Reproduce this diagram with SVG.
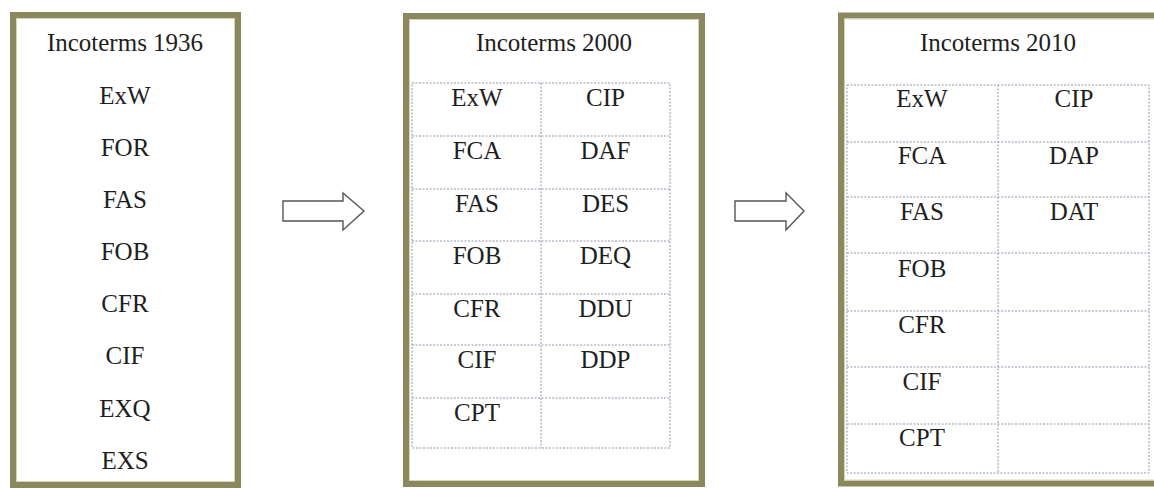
<svg xmlns="http://www.w3.org/2000/svg" width="1154" height="488" viewBox="0 0 1154 488">
  <style>
    .frame { fill: #ffffff; stroke: #8b875f; stroke-width: 6; }
    .frame-in { fill: none; stroke: #d8d4b4; stroke-width: 1; }
    .grid { fill: none; stroke: #8d97ad; stroke-width: 1; stroke-dasharray: 2 1.5; }
    .t { font-family: "Liberation Serif", "Times New Roman", serif; font-size: 25px; fill: #1e1e1e; text-anchor: middle; }
    .arrow { fill: #ffffff; stroke: #555555; stroke-width: 1.4; stroke-linejoin: miter; }
  </style>
  <rect x="0" y="0" width="1154" height="488" fill="#ffffff"/>

  <g id="box-1936">
    <rect class="frame" x="13" y="15" width="225" height="470"/>
    <rect class="frame-in" x="16.5" y="18.5" width="218" height="463"/>
    <text class="t" x="125" y="51">Incoterms 1936</text>
    <text class="t" x="125" y="103.5">ExW</text>
    <text class="t" x="125" y="155.5">FOR</text>
    <text class="t" x="125" y="207.5">FAS</text>
    <text class="t" x="125" y="259.5">FOB</text>
    <text class="t" x="125" y="311.5">CFR</text>
    <text class="t" x="125" y="363.5">CIF</text>
    <text class="t" x="125" y="416.5">EXQ</text>
    <text class="t" x="125" y="468.5">EXS</text>
  </g>

  <g id="box-2000">
    <rect class="frame" x="406" y="16" width="296" height="468"/>
    <rect class="frame-in" x="409.5" y="19.5" width="289" height="461"/>
    <text class="t" x="554" y="51">Incoterms 2000</text>
    <g class="grid">
      <rect x="412" y="83" width="258" height="365"/>
      <line x1="541" y1="83" x2="541" y2="448"/>
      <line x1="412" y1="136" x2="670" y2="136"/>
      <line x1="412" y1="189" x2="670" y2="189"/>
      <line x1="412" y1="241" x2="670" y2="241"/>
      <line x1="412" y1="294" x2="670" y2="294"/>
      <line x1="412" y1="345" x2="670" y2="345"/>
      <line x1="412" y1="398" x2="670" y2="398"/>
    </g>
    <text class="t" x="477" y="106">ExW</text>
    <text class="t" x="605.5" y="106">CIP</text>
    <text class="t" x="477" y="158.5">FCA</text>
    <text class="t" x="605.5" y="158.5">DAF</text>
    <text class="t" x="477" y="211.5">FAS</text>
    <text class="t" x="605.5" y="211.5">DES</text>
    <text class="t" x="477" y="263.5">FOB</text>
    <text class="t" x="605.5" y="263.5">DEQ</text>
    <text class="t" x="477" y="316.5">CFR</text>
    <text class="t" x="605.5" y="316.5">DDU</text>
    <text class="t" x="477" y="368">CIF</text>
    <text class="t" x="605.5" y="368">DDP</text>
    <text class="t" x="477" y="420.5">CPT</text>
  </g>

  <g id="box-2010">
    <rect class="frame" x="841" y="15.5" width="322" height="468"/>
    <rect class="frame-in" x="844.5" y="19" width="320" height="461"/>
    <text class="t" x="998" y="51">Incoterms 2010</text>
    <g class="grid">
      <rect x="847" y="85" width="302" height="388"/>
      <line x1="998" y1="85" x2="998" y2="473"/>
      <line x1="847" y1="142" x2="1149" y2="142"/>
      <line x1="847" y1="197" x2="1149" y2="197"/>
      <line x1="847" y1="253" x2="1149" y2="253"/>
      <line x1="847" y1="311" x2="1149" y2="311"/>
      <line x1="847" y1="367" x2="1149" y2="367"/>
      <line x1="847" y1="424" x2="1149" y2="424"/>
    </g>
    <text class="t" x="922" y="106.5">ExW</text>
    <text class="t" x="1074" y="106.5">CIP</text>
    <text class="t" x="922" y="164">FCA</text>
    <text class="t" x="1074" y="164">DAP</text>
    <text class="t" x="922" y="220">FAS</text>
    <text class="t" x="1074" y="220">DAT</text>
    <text class="t" x="922" y="277">FOB</text>
    <text class="t" x="922" y="333">CFR</text>
    <text class="t" x="922" y="390">CIF</text>
    <text class="t" x="922" y="446">CPT</text>
  </g>

  <g id="connectors">
    <path class="arrow" d="M283,201 H343 V193 L364,211 L343,230 V221 H283 Z"/>
    <path class="arrow" d="M735,201 H786 V193 L804,211 L786,230 V221 H735 Z"/>
  </g>
</svg>
